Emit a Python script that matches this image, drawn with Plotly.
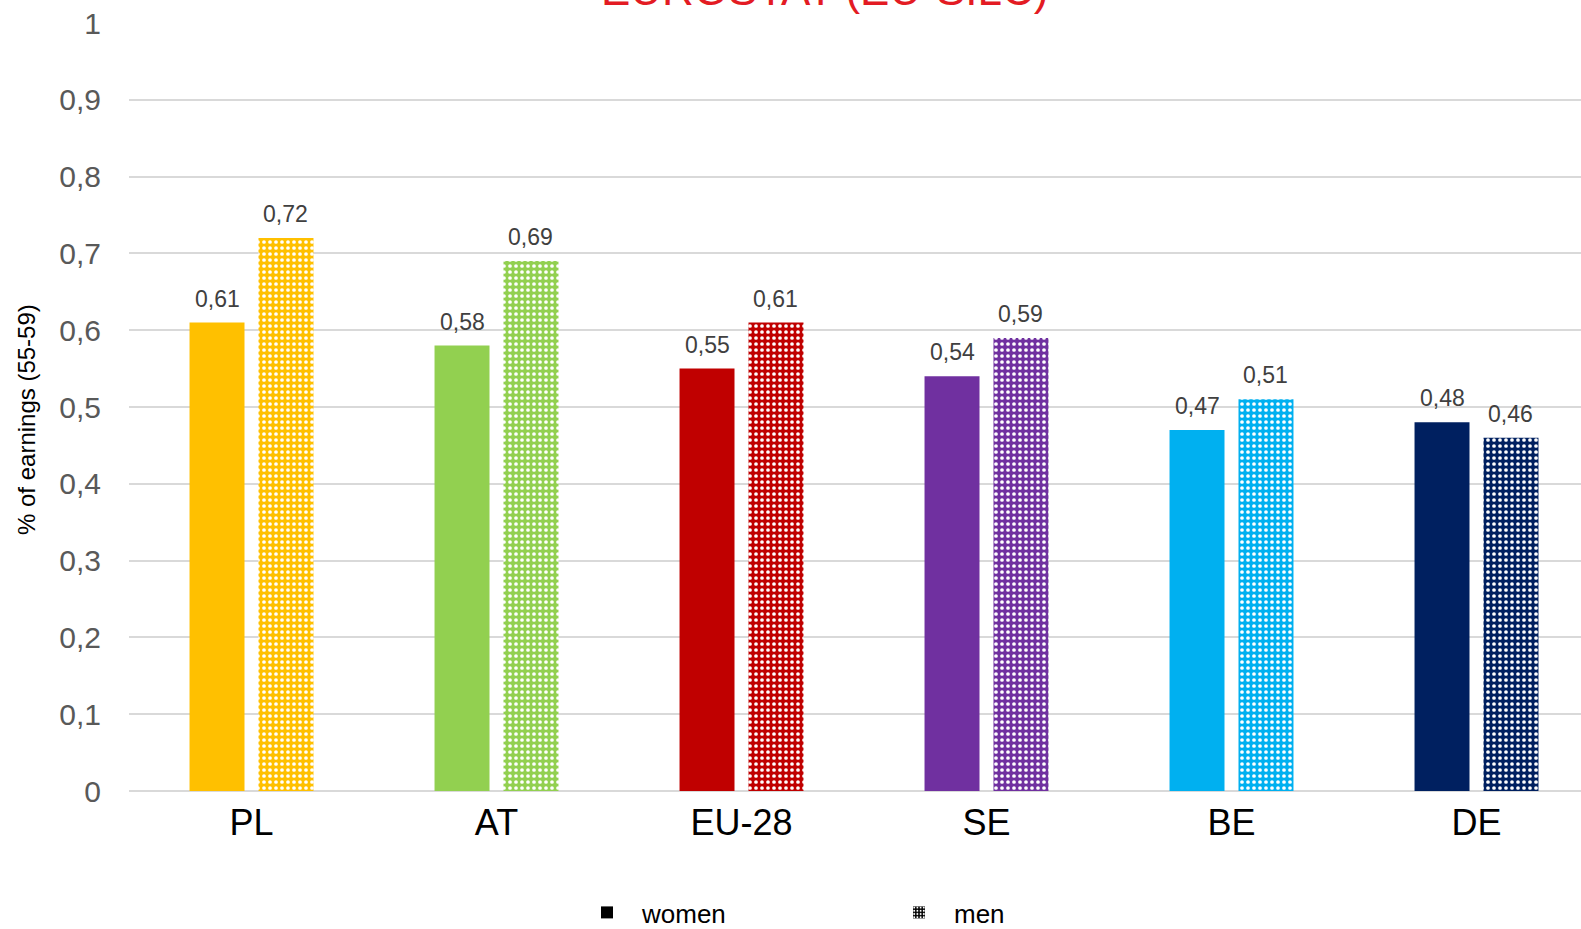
import plotly.graph_objects as go

categories = ["PL", "AT", "EU-28", "SE", "BE", "DE"]
women = [0.61, 0.58, 0.55, 0.54, 0.47, 0.48]
men = [0.72, 0.69, 0.61, 0.59, 0.51, 0.46]
colors = ["#FFC000", "#92D050", "#C00000", "#7030A0", "#00B0F0", "#002060"]
y_ticks = [0, 0.1, 0.2, 0.3, 0.4, 0.5, 0.6, 0.7, 0.8, 0.9, 1]

W, H = 1581, 929
L, R, T, B = 129, 0, 23, 138
plot_w = W - L - R
plot_h = H - T - B
cat_px = 245            # width of one category slot in pixels
BARGAP, GROUPGAP = 0.437, 0.203
slot_px = cat_px * (1 - BARGAP) / 2   # pixel width of each series slot

FONT = "Liberation Sans, Arial, sans-serif"


def men_pattern(bg, size=6):
    # white texture drawn over the bar's own colour
    return dict(shape=".", fgcolor="white", bgcolor=bg, fgopacity=1,
                size=size, solidity=0.3, fillmode="replace")


fig = go.Figure()

fig.add_trace(go.Bar(
    x=categories, y=women, name="women", showlegend=False, offsetgroup="w",
    marker=dict(color=colors, line=dict(width=0)),
))
# one trace per country so each textured bar keeps its own colour pair
for cat, val, col in zip(categories, men, colors):
    fig.add_trace(go.Bar(
        x=[cat], y=[val], name="men", showlegend=False, offsetgroup="m",
        marker=dict(color=col, line=dict(width=0), pattern=men_pattern(col)),
    ))

# legend entries in black, sharing the bar slots of the series above
fig.add_trace(go.Bar(x=[None], y=[None], name="women", offsetgroup="w",
                     marker=dict(color="black", line=dict(width=0))))
fig.add_trace(go.Bar(x=[None], y=[None], name="men", offsetgroup="m",
                     marker=dict(color="black", line=dict(width=0),
                                 pattern=men_pattern("black", size=4))))

# value labels above each bar
annotations = []
for series, shift in ((women, -slot_px / 2), (men, slot_px / 2)):
    for cat, val in zip(categories, series):
        annotations.append(dict(
            x=cat, y=val, xref="x", yref="y", text=f"{val:.2f}".replace(".", ","),
            showarrow=False, xshift=shift, yshift=24,
            xanchor="center", yanchor="middle",
            font=dict(size=23, color="#404040", family=FONT),
        ))

annotations += [
    dict(text="% of earnings (55-59)", textangle=-90,
         xref="paper", yref="paper",
         x=(26 - L) / plot_w, y=1 - (420 - T) / plot_h,
         xanchor="center", yanchor="middle", showarrow=False,
         font=dict(size=24, color="black", family=FONT)),
    dict(text="EUROSTAT (EU-SILC)",
         xref="paper", yref="paper",
         x=(824 - L) / plot_w, y=1 + (T - 16) / plot_h,
         xanchor="center", yanchor="bottom", showarrow=False,
         font=dict(size=44, color="#E31B23", family=FONT)),
]

x_max = plot_w / cat_px - 0.5

fig.update_layout(
    width=W, height=H,
    margin=dict(l=L, r=R, t=T, b=B, pad=0, autoexpand=False),
    paper_bgcolor="white", plot_bgcolor="white",
    separators=",.",
    barmode="group", bargap=BARGAP, bargroupgap=GROUPGAP,
    font=dict(family=FONT, color="#595959"),
    xaxis=dict(
        range=[-0.5, x_max], showgrid=False, zeroline=False,
        showline=False, ticks="",
        tickfont=dict(size=36, color="black", family=FONT),
        ticklabelstandoff=7,
    ),
    yaxis=dict(
        range=[0, 1], tickvals=y_ticks, tickformat=".1~f",
        showgrid=True, gridcolor="#D9D9D9", gridwidth=1.5,
        zeroline=True, zerolinecolor="#D9D9D9", zerolinewidth=1.5,
        showline=False, ticks="", ticklabelstandoff=27,
        tickfont=dict(size=30, color="#595959", family=FONT),
    ),
    legend=dict(
        orientation="h", xref="container", yref="container",
        x=572 / W, xanchor="left",
        y=1 - 889 / H, yanchor="top",
        font=dict(size=26, color="black", family=FONT),
        entrywidth=237, itemwidth=60,
        bgcolor="rgba(0,0,0,0)",
    ),
    annotations=annotations,
)

fig.write_html("out.html")
